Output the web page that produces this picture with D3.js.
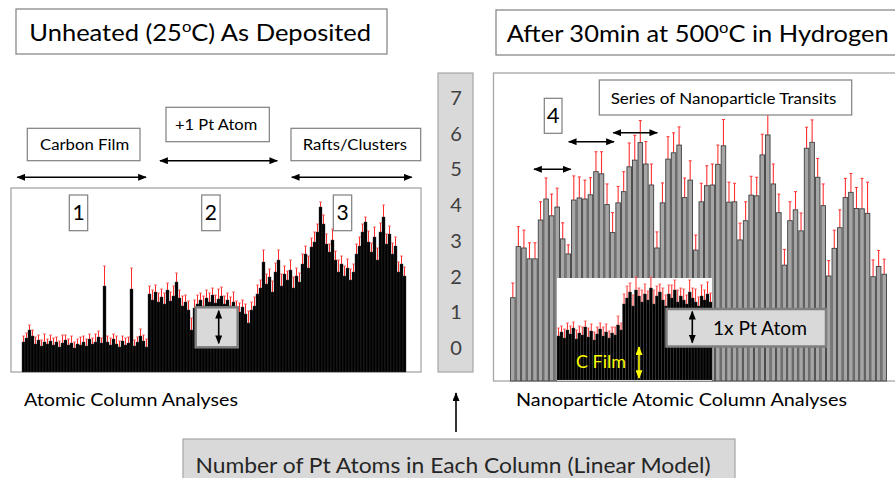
<!DOCTYPE html>
<html>
<head>
<meta charset="utf-8">
<script src="https://cdn.jsdelivr.net/npm/d3@7"></script>
<style>
  body { margin: 0; background: #fff; }
  svg { display: block; font-family: Lato, "Open Sans", sans-serif; }
</style>
</head>
<body>
<svg id="fig" width="895" height="478"></svg>
<script>
// ---- data ----
// left panel: column intensity (a.u.), three regions
const carbonFilm = [30,34,42,36,28,32,26,30,28,31,27,30,25,29,32,27,29,24,28,27,30,26,33,28,30,35,29,86,30,27,33,28,25,31,27,29,83,26,30,36,31,25];
const carbonFilmErr = [6,5,5,6,7,5,6,8,5,6,7,5,6,8,5,6,7,6,5,8,6,7,5,6,8,6,5,20,6,7,5,8,6,5,7,6,21,6,5,7,6,8];
const plusOnePt = [78,72,80,70,75,68,82,71,76,90,74,66,70,62,42,64,68,72,66,74,70,77,69,73,76,68,72,66,70,63,60,65,58,49,62,66];
const plusOnePtErr = [8,10,7,9,8,11,7,9,10,9,8,10,7,9,12,8,9,7,10,8,9,7,8,10,9,8,7,9,10,8,9,7,10,12,8,9];
const raftsClusters = [78,84,110,88,95,80,100,112,86,98,92,102,84,96,90,108,118,104,125,130,140,165,148,128,120,132,112,100,108,96,104,92,100,118,126,140,150,130,120,135,112,140,155,128,138,118,126,100,108,96];
const raftsClustersErr = [9,8,12,10,8,11,9,10,12,8,9,10,11,8,9,10,8,12,9,10,8,5,9,10,8,11,9,12,8,10,9,11,8,10,9,8,5,11,9,10,12,9,12,10,8,11,9,10,8,9];

// right panel: Pt atoms per column (after anneal)
const nanoCols = [2.38,3.84,3.80,3.49,3.49,4.60,5.20,4.72,4.97,4.06,3.63,5.17,5.23,5.20,5.32,5.98,5.92,5.04,4.24,5.09,
  5.41,6.12,6.31,6.81,6.20,5.60,3.80,5.09,6.34,6.52,6.74,5.24,5.74,3.74,5.12,5.58,5.60,6.19,6.72,5.11,
  5.12,4.03,4.58,5.31,5.29,6.46,7.03,5.63,4.81,3.31,4.58,4.89,4.29,6.65,6.82,5.82,5.01,3.00,3.79,4.38,
  5.24,5.39,4.93,4.92,4.79,2.98,3.27,3.05];
const nanoColsErr = [0.42,0.57,0.51,0.46,0.46,0.52,0.60,0.62,0.54,0.46,0.26,0.69,0.60,0.54,0.49,0.57,0.63,0.59,0.57,0.47,
  0.57,0.68,0.71,0.63,0.64,0.60,0.46,0.57,0.64,0.57,0.52,0.56,0.55,0.43,0.53,0.57,0.60,0.55,0.75,0.57,
  0.53,0.48,0.54,0.54,0.53,0.59,0.65,0.57,0.53,0.45,0.54,0.52,0.51,0.60,0.64,0.54,0.62,0.44,0.52,0.51,
  0.55,0.54,0.60,0.87,0.89,0.48,0.46,0.43];

// inset: C film then +1 Pt atom (a.u.)
const insetFilm = [44,48,42,50,46,52,41,47,45,53,43,49,40,46,51,44,48,42,47,45,55,50];
const insetPt = [76,82,88,74,90,84,78,86,80,92,76,84,88,80,74,86,82,90,78,84,80,76,88,82,78,74,84,80,86,78];
const insetErr = [8,6,9,7,8,6,9,7,8,6,9,7,8,7,6,9,8,7,6,8,9,7,
  10,12,9,11,13,8,12,10,9,11,14,10,8,12,11,9,13,10,12,8,11,9,12,10,13,9,11,10,12,9];

const scaleTicks = [0,1,2,3,4,5,6,7];

const svg = d3.select("#fig");
const defs = svg.append("defs");

function addMarker(id, color) {
  defs.append("marker").attr("id", id)
    .attr("viewBox", "0 0 10 8").attr("refX", 9).attr("refY", 4)
    .attr("markerWidth", 9).attr("markerHeight", 7)
    .attr("markerUnits", "userSpaceOnUse")
    .attr("orient", "auto-start-reverse")
    .append("path").attr("d", "M0,0L10,4L0,8z").attr("fill", color);
}
addMarker("hk", "#000");
addMarker("hy", "#ffff00");

function arrow(x1, y1, x2, y2, color, both) {
  const l = svg.append("line")
    .attr("x1", x1).attr("y1", y1).attr("x2", x2).attr("y2", y2)
    .attr("stroke", color || "#000").attr("stroke-width", 1.6)
    .attr("marker-end", color === "#ffff00" ? "url(#hy)" : "url(#hk)");
  if (both) l.attr("marker-start", color === "#ffff00" ? "url(#hy)" : "url(#hk)");
}

function box(x, y, w, h, fill, stroke, sw) {
  svg.append("rect").attr("x", x).attr("y", y).attr("width", w).attr("height", h)
    .attr("fill", fill || "#fff").attr("stroke", stroke || "#7f7f7f").attr("stroke-width", sw || 1.2);
}

// squeeze text horizontally to the width it has in the figure
function fitWidth(t, x, w) {
  const bw = t.node().getBBox().width;
  t.attr("transform", `translate(${x},0) scale(${w / bw},1) translate(${-x},0)`);
}

function label(x, y, str, size, w, color) {
  const t = svg.append("text").attr("x", x).attr("y", y)
    .attr("font-size", size).attr("fill", color || "#000").text(str);
  if (w) fitWidth(t, x, w);
  return t;
}

function degTitle(x, y, before, after, w) {
  const t = svg.append("text").attr("x", x).attr("y", y).attr("font-size", 23);
  t.append("tspan").text(before);
  t.append("tspan").attr("font-size", 15).attr("dy", -9).text("o");
  t.append("tspan").attr("dy", 9).text(after);
  fitWidth(t, x, w);
}

// ---- titles ----
box(16, 9, 371, 45);
degTitle(29.3, 40.7, "Unheated (25", "C) As Deposited", 342);
box(496, 10, 420, 45);
degTitle(506.7, 41.7, "After 30min at 500", "C in Hydrogen", 382);

// ---- left panel ----
box(27.3, 128.3, 112.7, 32.4);
label(40, 150, "Carbon Film", 16, 89.3);
box(166, 107.3, 103.3, 34.4);
label(175, 130, "+1 Pt Atom", 16, 82.3);
box(291, 128.3, 129.7, 32.4);
label(302.7, 150, "Rafts/Clusters", 16, 104.6);
arrow(17.3, 177.3, 146, 177.3, "#000", true);
arrow(160, 160.7, 277.3, 160.7, "#000", true);
arrow(291.7, 177.3, 411.7, 177.3, "#000", true);

box(11, 188, 410, 184, "#fff", "#a6a6a6", 1.3);

const leftVals = carbonFilm.concat(plusOnePt, raftsClusters);
const leftErr = carbonFilmErr.concat(plusOnePtErr, raftsClustersErr);
const left = leftVals.map((v, i) => ({ i: i, v: v, e: leftErr[i] }));

const xL = d3.scaleBand().domain(d3.range(left.length)).range([22, 406]).padding(0);
const yL = d3.scaleLinear().domain([0, 184]).range([372, 188]);

const gL = svg.append("g");
gL.selectAll("line.err").data(left).join("line").attr("class", "err")
  .attr("x1", d => xL(d.i) + xL.bandwidth() / 2).attr("x2", d => xL(d.i) + xL.bandwidth() / 2)
  .attr("y1", d => yL(d.v)).attr("y2", d => yL(d.v + d.e))
  .attr("stroke", "#ff2a2a").attr("stroke-width", 1);
gL.selectAll("line.cap").data(left).join("line").attr("class", "cap")
  .attr("x1", d => xL(d.i)).attr("x2", d => xL(d.i) + xL.bandwidth())
  .attr("y1", d => yL(d.v + d.e)).attr("y2", d => yL(d.v + d.e))
  .attr("stroke", "#ff5050").attr("stroke-width", 0.8);
gL.selectAll("rect").data(left).join("rect")
  .attr("x", d => xL(d.i)).attr("width", xL.bandwidth())
  .attr("y", d => yL(d.v)).attr("height", d => yL(0) - yL(d.v))
  .attr("fill", "#000").attr("stroke", "#3a3a3a").attr("stroke-width", 0.4);

[["1", 69.3], ["2", 201.7], ["3", 333.3]].forEach(p => {
  box(p[1], 195, 18.4, 35.7);
  svg.append("text").attr("x", p[1] + 9.2).attr("y", 220).attr("text-anchor", "middle")
    .attr("font-size", 21).text(p[0]);
});

box(195.7, 307.3, 42, 40, "#d9d9d9", "#7f7f7f", 2.5);
arrow(218.7, 310.7, 218.7, 343.3, "#000", true);

label(24, 406, "Atomic Column Analyses", 17.7, 214);

// ---- centre scale ----
box(438, 73, 35, 299, "#d9d9d9", "#a6a6a6", 1.2);
const yS = d3.scaleLinear().domain([0, 7]).range([355, 105]);
svg.append("g").selectAll("text").data(scaleTicks).join("text")
  .attr("x", 456).attr("y", d => yS(d)).attr("text-anchor", "middle")
  .attr("font-size", 20).attr("fill", "#404040").text(d => d);
arrow(456, 432, 456, 393, "#000", false);

box(183, 439, 552, 50, "#d9d9d9", "#a6a6a6", 1.2);
label(195.5, 473, "Number of Pt Atoms in Each Column (Linear Model)", 21, 515.5, "#262626");

// ---- right panel ----
box(493.5, 73, 420, 308, "#fff", "#a6a6a6", 1.3);

const right = nanoCols.map((v, i) => ({ i: i, v: v, e: nanoColsErr[i] }));
const xR = d3.scaleBand().domain(d3.range(right.length)).range([510, 887]).paddingInner(0.18).paddingOuter(0.1);
const yR = d3.scaleLinear().domain([0, 8]).range([381, 101]);

const gR = svg.append("g");
gR.selectAll("line.err").data(right).join("line").attr("class", "err")
  .attr("x1", d => xR(d.i) + xR.bandwidth() / 2).attr("x2", d => xR(d.i) + xR.bandwidth() / 2)
  .attr("y1", d => yR(d.v)).attr("y2", d => yR(d.v + d.e))
  .attr("stroke", "#ff3030").attr("stroke-width", 1.1);
gR.selectAll("line.cap").data(right).join("line").attr("class", "cap")
  .attr("x1", d => xR(d.i) + xR.bandwidth() / 2 - 1.5).attr("x2", d => xR(d.i) + xR.bandwidth() / 2 + 1.5)
  .attr("y1", d => yR(d.v + d.e)).attr("y2", d => yR(d.v + d.e))
  .attr("stroke", "#ff3030").attr("stroke-width", 1);
gR.selectAll("rect").data(right).join("rect")
  .attr("x", d => xR(d.i)).attr("width", xR.bandwidth())
  .attr("y", d => yR(d.v)).attr("height", d => yR(0) - yR(d.v))
  .attr("fill", "#a6a6a6").attr("stroke", "#3f3f3f").attr("stroke-width", 0.9);

box(599.3, 80, 252.4, 35);
label(610.7, 104.3, "Series of Nanoparticle Transits", 14.5, 226);
box(544.3, 98.3, 17.7, 35);
svg.append("text").attr("x", 553.2).attr("y", 122.7).attr("text-anchor", "middle")
  .attr("font-size", 22).text("4");
arrow(534, 169.3, 570.7, 169.3, "#000", true);
arrow(568.7, 141.7, 614, 141.7, "#000", true);
arrow(613.3, 132.7, 657.3, 132.7, "#000", true);

// inset: unheated film, rescaled
svg.append("rect").attr("x", 557).attr("y", 278).attr("width", 155).attr("height", 103).attr("fill", "#fff");
const inset = insetFilm.concat(insetPt).map((v, i) => ({ i: i, v: v, e: insetErr[i] }));
const xI = d3.scaleBand().domain(d3.range(inset.length)).range([557, 712]).padding(0);
const yI = d3.scaleLinear().domain([0, 102]).range([380, 278]);
const gI = svg.append("g");
gI.selectAll("line.err").data(inset).join("line").attr("class", "err")
  .attr("x1", d => xI(d.i) + xI.bandwidth() / 2).attr("x2", d => xI(d.i) + xI.bandwidth() / 2)
  .attr("y1", d => yI(d.v)).attr("y2", d => yI(d.v + d.e))
  .attr("stroke", "#ff2a2a").attr("stroke-width", 1);
gI.selectAll("line.cap").data(inset).join("line").attr("class", "cap")
  .attr("x1", d => xI(d.i)).attr("x2", d => xI(d.i) + xI.bandwidth())
  .attr("y1", d => yI(d.v + d.e)).attr("y2", d => yI(d.v + d.e))
  .attr("stroke", "#ff5050").attr("stroke-width", 0.8);
gI.selectAll("rect").data(inset).join("rect")
  .attr("x", d => xI(d.i)).attr("width", xI.bandwidth())
  .attr("y", d => yI(d.v)).attr("height", d => yI(0) - yI(d.v))
  .attr("fill", "#000").attr("stroke", "#3a3a3a").attr("stroke-width", 0.4);

label(576, 368.3, "C Film", 17, 50, "#ffff00");
arrow(639, 347, 639, 378, "#ffff00", true);

box(666.5, 309, 159.5, 37.5, "#d9d9d9", "#7f7f7f", 2.5);
arrow(692.3, 311.5, 692.3, 342.7, "#000", true);
label(713, 335, "1x Pt Atom", 18.5, 94);

label(516, 406, "Nanoparticle Atomic Column Analyses", 17.7, 331);
</script>
</body>
</html>
